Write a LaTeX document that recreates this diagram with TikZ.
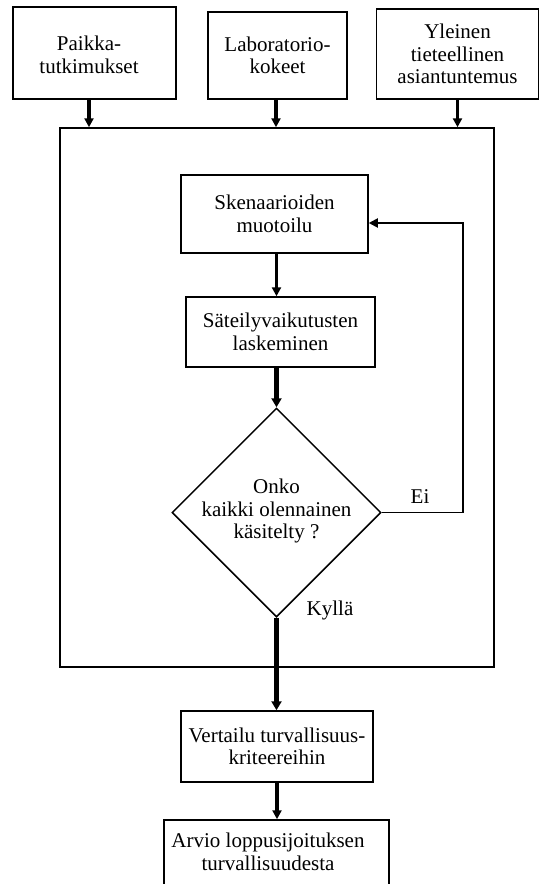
\documentclass[tikz,border=0pt]{standalone}
\usepackage{fontspec}
\setmainfont{Liberation Serif}
\usetikzlibrary{arrows.meta,shapes.geometric}
\begin{document}
\begin{tikzpicture}[x=1pt,y=-1pt,
  box/.style={draw,line width=1.5pt,inner sep=0pt,align=center,
    font=\fontsize{21}{22.5}\selectfont},
  txt/.style={inner sep=0pt,align=center,font=\fontsize{21}{22.5}\selectfont},
  arr/.style={line width=3.2pt,-{Triangle[length=9pt,width=9pt]}},
  thickarr/.style={line width=4.8pt,-{Triangle[length=9pt,width=10pt]}},
  thinarr/.style={line width=1.8pt,-{Triangle[length=9pt,width=9pt]}}]
\useasboundingbox (0,0) rectangle (541,884);
% top boxes
\node[box,minimum width=163pt,minimum height=92pt] (b1) at (94.5,53) {};
\node[txt] (b1t) at (89,55) {Paikka-\\tutkimukset};
\node[box,minimum width=139pt,minimum height=87pt] (b2) at (277.5,55.5) {Laboratorio-\\kokeet};
\node[box,minimum width=162pt,minimum height=90pt] (b3) at (457.5,54) {Yleinen\\tieteellinen\\asiantuntemus};
% big box
\node[draw,line width=1.5pt,minimum width=434pt,minimum height=539pt] (big) at (277,397.5) {};
% inner
\node[box,minimum width=187pt,minimum height=78pt] (sken) at (274.5,214) {Skenaarioiden\\muotoilu};
\node[box,minimum width=189pt,minimum height=70pt] (sat) at (280.5,332) {Säteilyvaikutusten\\laskeminen};
\node[draw,line width=1.5pt,diamond,aspect=1,inner sep=0pt,minimum width=209pt,minimum height=209pt] (dia) at (276.5,512.5) {};
\node[txt] (diat) at (276.5,511) {Onko\\kaikki olennainen\\käsitelty ?};
\node[txt,anchor=center] (ei) at (420,497) {Ei};
\node[txt,anchor=center] (kylla) at (330,610) {Kyllä};
% bottom
\node[box,minimum width=192pt,minimum height=71pt] (vert) at (277,746.5) {Vertailu turvallisuus-\\kriteereihin};
\node[draw,line width=1.5pt,minimum width=225pt,minimum height=80pt] (arvio) at (276.5,860) {};
\node[txt] (arviot) at (268,852) {Arvio loppusijoituksen\\turvallisuudesta};
% connectors
\draw[arr] ([xshift=-5.5pt]b1.south) -- ([xshift=-5.5pt]b1.south |- big.north);
\draw[arr] ([xshift=-1.5pt]b2.south) -- ([xshift=-1.5pt]b2.south |- big.north);
\draw[arr] (b3.south) -- (b3.south |- big.north);
\draw[arr] (sken.south -| dia) -- (sat.north -| dia);
\draw[thickarr] (sat.south -| dia) -- (dia.north);
\coordinate (fb) at (463,512.5);
\coordinate (fbtop) at (463,223);
\draw[thinarr] (dia.east) -- (fb) -- (fbtop) -- (sken.east |- fbtop);
\draw[thickarr] (dia.south) -- (vert.north -| dia);
\draw[arr] (vert.south) -- (arvio.north -| vert);
\end{tikzpicture}
\end{document}
